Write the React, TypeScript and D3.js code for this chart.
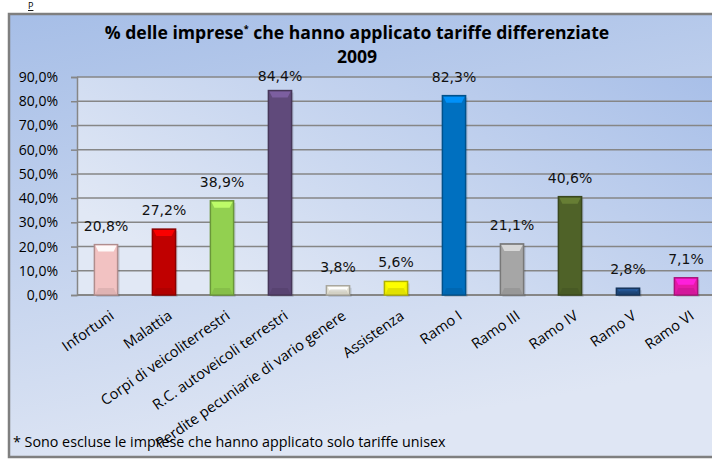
import { useEffect, useRef } from 'react'
import * as d3 from 'd3'

const categories = [
  'Infortuni', 'Malattia', 'Corpi di veicoliterrestri', 'R.C. autoveicoli terrestri',
  'Perdite pecuniarie di vario genere', 'Assistenza', 'Ramo I', 'Ramo III', 'Ramo IV', 'Ramo V', 'Ramo VI',
]
const values = [20.8, 27.2, 38.9, 84.4, 3.8, 5.6, 82.3, 21.1, 40.6, 2.8, 7.1]
const colors = [
  '#f2c2c2', '#c00000', '#92d050', '#604a7b', '#e6e3d5', '#f5f500',
  '#0070c0', '#a6a6a6', '#4f6228', '#1f497d', '#e619a8',
]
const yTicks = [0, 10, 20, 30, 40, 50, 60, 70, 80, 90]

const fmt = (v: number) => v.toFixed(1).replace('.', ',') + '%'

export default function App() {
  const ref = useRef<SVGSVGElement>(null)

  useEffect(() => {
    const el = ref.current
    if (!el) return
    const W = 712, H = 461
    const svg = d3.select(el)
    svg.selectAll('*').remove()
    svg.attr('width', W).attr('height', H).attr('viewBox', `0 0 ${W} ${H}`)

    const defs = svg.append('defs')
    const bg = defs.append('linearGradient').attr('id', 'bg')
      .attr('x1', '0').attr('y1', '0').attr('x2', '0.3').attr('y2', '1')
    bg.append('stop').attr('offset', '0').attr('stop-color', '#a6bee7')
    bg.append('stop').attr('offset', '1').attr('stop-color', '#dfe6f4')
    const pg = defs.append('linearGradient').attr('id', 'pg')
      .attr('x1', '0').attr('y1', '0.6').attr('x2', '1').attr('y2', '0')
    pg.append('stop').attr('offset', '0').attr('stop-color', '#e1e8f5')
    pg.append('stop').attr('offset', '1').attr('stop-color', '#a8bfe8')

    // page + frame
    svg.append('rect').attr('width', W).attr('height', H).attr('fill', '#ffffff')
    svg.append('text').attr('x', 28).attr('y', 9).attr('font-family', 'Open Sans')
      .attr('font-size', 9).attr('text-decoration', 'underline').text('P')
    svg.append('rect').attr('x', 9).attr('y', 14).attr('width', W + 10).attr('height', 443)
      .attr('fill', 'url(#bg)').attr('stroke', '#7f7f7f').attr('stroke-width', 2.5)

    const x = d3.scaleBand<string>().domain(categories).range([77, 715])
      .paddingInner(0.6).paddingOuter(0.3)
    const y = d3.scaleLinear().domain([0, 90]).range([295, 77])

    // plot area
    svg.append('rect').attr('x', 77).attr('y', 77).attr('width', W - 77).attr('height', 218)
      .attr('fill', 'url(#pg)')

    // title
    const title = svg.append('text').attr('x', 357).attr('text-anchor', 'middle')
      .attr('font-family', 'Open Sans').attr('font-weight', 'bold').attr('font-size', 17.6)
      .attr('fill', '#000')
    const l1 = title.append('tspan').attr('x', 357).attr('y', 39)
    l1.append('tspan').text('% delle imprese')
    l1.append('tspan').attr('font-size', 9).attr('dy', -7).text('*')
    l1.append('tspan').attr('dy', 7).text(' che hanno applicato tariffe differenziate')
    title.append('tspan').attr('x', 357).attr('y', 63).text('2009')

    // grid + axis
    const ax = svg.append('g').attr('transform', 'translate(77,0)')
      .call(d3.axisLeft(y).tickValues(yTicks).tickSize(6).tickPadding(6)
        .tickFormat(d => fmt(+d)))
    ax.select('.domain').attr('stroke', '#868686').attr('stroke-width', 1.5)
    ax.selectAll('.tick line').attr('stroke', '#868686').attr('stroke-width', 1.5)
    ax.selectAll('.tick text').attr('font-family', 'Open Sans').attr('font-size', 14)
      .attr('fill', '#000').attr('x', -19)

    svg.append('g').selectAll('line').data(yTicks).join('line')
      .attr('x1', 77).attr('x2', W).attr('y1', d => y(d)).attr('y2', d => y(d))
      .attr('stroke', '#868686').attr('stroke-width', d => (d === 0 ? 2 : 1.5))

    // bars
    const bw = x.bandwidth()
    const bars = svg.append('g').selectAll('g').data(values).join('g')
      .attr('transform', (_, i) => `translate(${x(categories[i])},0)`)
    bars.append('rect').attr('x', 2).attr('y', d => y(d) + 2).attr('width', bw).attr('height', d => y(0) - y(d))
      .attr('fill', '#000').attr('opacity', 0.12)
    bars.append('rect').attr('y', d => y(d)).attr('width', bw).attr('height', d => y(0) - y(d))
      .attr('fill', (_, i) => colors[i])
      .attr('stroke', (_, i) => d3.color(colors[i])!.darker(0.9).formatHex()).attr('stroke-width', 1.5)
    bars.append('path')
      .attr('d', d => {
        const t = y(d) + 1, h = Math.min(6, (y(0) - y(d)) / 2)
        return `M1,${t} L${bw - 1},${t} L${bw - 4},${t + h} L4,${t + h} Z`
      })
      .attr('fill', (_, i) => d3.color(colors[i])!.brighter(0.8).formatHex()).attr('opacity', 0.9)
    bars.append('path')
      .attr('d', d => {
        const b = y(0) - 1, h = Math.min(6, (y(0) - y(d)) / 2)
        return `M1,${b} L${bw - 1},${b} L${bw - 4},${b - h} L4,${b - h} Z`
      })
      .attr('fill', (_, i) => d3.color(colors[i])!.darker(0.4).formatHex()).attr('opacity', 0.6)

    // value labels
    bars.append('text').attr('x', bw / 2).attr('y', d => Math.max(y(d) - 14, 81)).attr('text-anchor', 'middle')
      .attr('font-family', 'DejaVu Sans').attr('font-size', 14).attr('fill', '#111')
      .text(d => fmt(d))

    // category labels
    svg.append('g').selectAll('text').data(categories).join('text')
      .attr('transform', d => `translate(${x(d)! + bw / 2 + 9},${318}) rotate(-35)`)
      .attr('text-anchor', 'end').attr('font-family', 'Open Sans').attr('font-size', 14.5)
      .attr('fill', '#000').text(d => d)

    // footnote
    svg.append('text').attr('x', 13).attr('y', 447).attr('font-family', 'Open Sans')
      .attr('font-size', 14.3).attr('fill', '#000')
      .text('* Sono escluse le imprese che hanno applicato solo tariffe unisex')
  }, [])

  return (
    <div style={{ position: 'absolute', left: 0, top: 0 }}>
      <svg ref={ref} style={{ display: 'block' }} />
    </div>
  )
}
